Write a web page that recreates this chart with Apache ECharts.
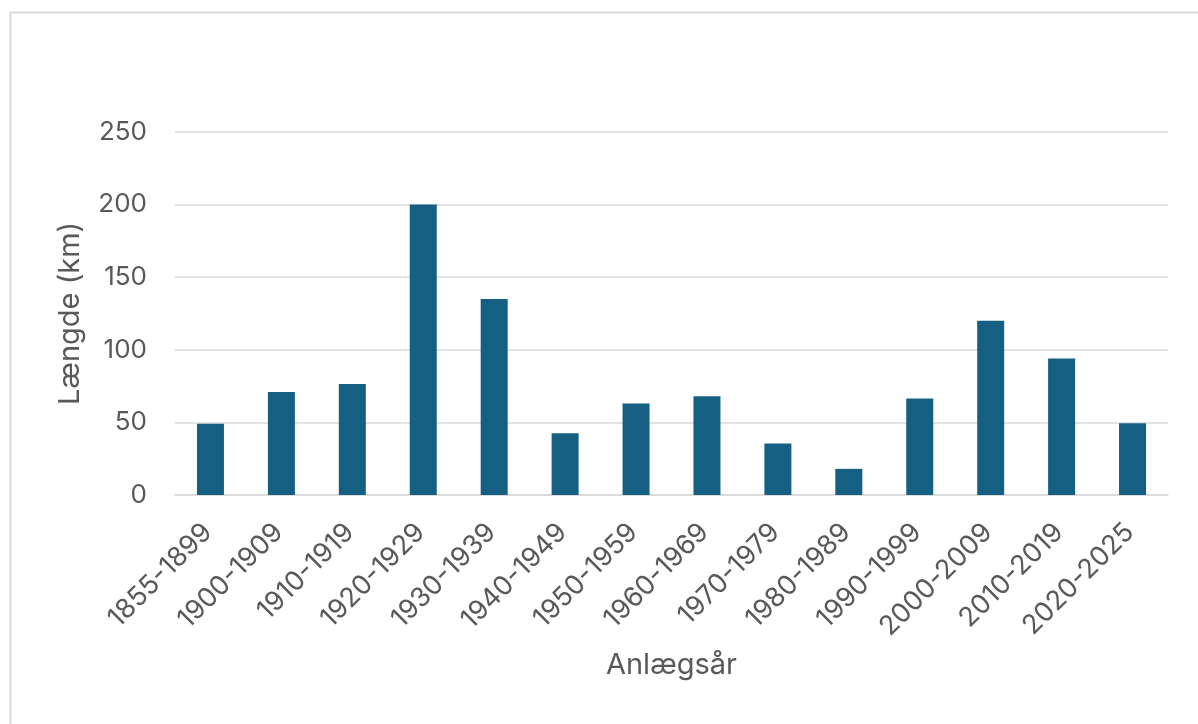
<!DOCTYPE html>
<html>
<head>
<meta charset="utf-8">
<script src="https://cdn.jsdelivr.net/npm/echarts@6/dist/echarts.min.js"></script>
<style>
html,body{margin:0;padding:0;background:#fff;}
#chart{width:1198px;height:724px;}
</style>
</head>
<body>
<div id="chart"></div>
<script>
const categories = ['1855-1899','1900-1909','1910-1919','1920-1929','1930-1939','1940-1949','1950-1959','1960-1969','1970-1979','1980-1989','1990-1999','2000-2009','2010-2019','2020-2025'];
const lengthKm = [49, 71, 76.5, 200, 135, 42.5, 63, 68, 35.5, 18, 66.5, 120, 94, 49.5];
const yTicks = [0, 50, 100, 150, 200, 250];
const xTitle = 'Anlægsår';
const yTitle = 'Længde (km)';

const textColor = '#595959';
const fontFamily = 'Inter, "Open Sans", sans-serif';
const chart = echarts.init(document.getElementById('chart'), null, {renderer: 'canvas'});
chart.setOption({
  animation: false,
  backgroundColor: '#ffffff',
  graphic: [{
    type: 'rect',
    left: 8, top: 10,
    shape: {width: 1300, height: 900},
    style: {fill: 'none', stroke: '#d9d9d9', lineWidth: 2},
    silent: true, z: -1
  }],
  grid: {left: 175, right: 30, top: 132, bottom: 229, containLabel: false},
  xAxis: {
    type: 'category',
    data: categories,
    name: xTitle,
    nameLocation: 'middle',
    nameGap: 156,
    nameTextStyle: {color: textColor, fontSize: 29, fontFamily: fontFamily},
    axisLine: {show: true, lineStyle: {color: '#d9d9d9', width: 1.5}},
    axisTick: {show: false},
    axisLabel: {rotate: 45, color: textColor, fontSize: 27, fontFamily: fontFamily, margin: 30, padding: [0, 4, 0, 0], interval: 0}
  },
  yAxis: {
    type: 'value',
    min: yTicks[0],
    max: yTicks[yTicks.length - 1],
    interval: yTicks[1] - yTicks[0],
    name: yTitle,
    nameLocation: 'middle',
    nameGap: 90,
    nameTextStyle: {color: textColor, fontSize: 29, fontFamily: fontFamily},
    axisLine: {show: false},
    axisTick: {show: false},
    axisLabel: {color: textColor, fontSize: 26, fontFamily: fontFamily, margin: 28},
    splitLine: {show: true, lineStyle: {color: '#d9d9d9', width: 1.5}}
  },
  series: [{
    type: 'bar',
    data: lengthKm,
    barWidth: 27,
    itemStyle: {color: '#156082'}
  }]
});
</script>
</body>
</html>
